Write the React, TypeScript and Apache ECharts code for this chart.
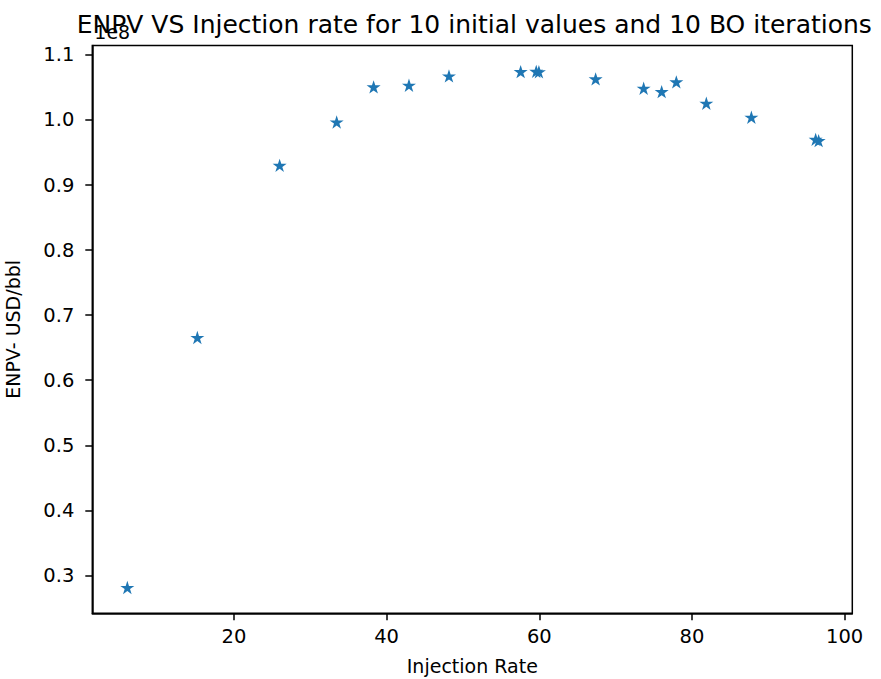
import React, { useEffect, useRef } from "react";
import * as echarts from "echarts";

// Injection rate (x) and ENPV in USD (y)
const injectionRate = [
  6.04, 15.21, 25.99, 33.46, 38.3, 42.93, 48.17, 57.56, 59.6, 59.95,
  67.38, 73.67, 76.03, 77.95, 81.88, 87.78, 96.2, 96.59,
];
const enpv = [
  28150000, 66570000, 93030000, 99690000, 105080000, 105340000, 106770000,
  107430000, 107480000, 107420000, 106310000, 104880000, 104350000,
  105850000, 102570000, 100420000, 97030000, 96820000,
];

const xTicks = [20, 40, 60, 80, 100];
const yTicks = [0.3e8, 0.4e8, 0.5e8, 0.6e8, 0.7e8, 0.8e8, 0.9e8, 1.0e8, 1.1e8];

const titleText = "ENPV VS Injection rate for 10 initial values and 10 BO iterations";
const xName = "Injection Rate";
const yName = "ENPV- USD/bbl";
const offsetText = "1e8";

const STAR =
  "path://M0,-1 L-0.2245,-0.309 L-0.9511,-0.309 L-0.3633,0.118 L-0.5878,0.809 L0,0.382 L0.5878,0.809 L0.3633,0.118 L0.9511,-0.309 L0.2245,-0.309 Z";

const FONT = "DejaVu Sans";

export default function App() {
  const ref = useRef<HTMLDivElement>(null);
  useEffect(() => {
    if (!ref.current) return;
    const chart = echarts.init(ref.current, undefined, { renderer: "svg" });
    const gridLeft = 92.3;
    const gridRight = 28.7;
    const gridTop = 45.5;
    const gridBottom = 65.7;
    const plotCenterX = gridLeft + (881 - gridLeft - gridRight) / 2;
    const axisLine = { show: true, onZero: false, lineStyle: { color: "#000", width: 1.5 } };
    chart.setOption({
      animation: false,
      backgroundColor: "#fff",
      grid: {
        left: gridLeft,
        right: gridRight,
        top: gridTop,
        bottom: gridBottom,
        containLabel: false,
        outerBoundsMode: "none",
        show: true,
        borderColor: "#000",
        borderWidth: 1.5,
        backgroundColor: "transparent",
      },
      graphic: [
        {
          type: "text",
          x: gridLeft + 2,
          y: 32,
          z: 1,
          style: {
            text: offsetText,
            fontFamily: FONT,
            fontSize: 19,
            fill: "#000",
            align: "left",
            verticalAlign: "middle",
          },
        },
        {
          type: "text",
          x: plotCenterX + 2,
          y: 24,
          z: 2,
          style: {
            text: titleText,
            fontFamily: FONT,
            fontSize: 25,
            fill: "#000",
            align: "center",
            verticalAlign: "middle",
          },
        },
      ],
      xAxis: {
        type: "value",
        min: 1.45,
        max: 101.0,
        name: xName,
        nameLocation: "middle",
        nameGap: 43,
        nameTextStyle: { fontFamily: FONT, fontSize: 19, color: "#000" },
        axisLine,
        splitLine: { show: false },
        axisTick: {
          show: true,
          inside: false,
          length: 7,
          customValues: xTicks,
          lineStyle: { color: "#000", width: 1.5 },
        },
        axisLabel: {
          customValues: xTicks,
          margin: 13,
          fontFamily: FONT,
          fontSize: 19.5,
          color: "#000",
          formatter: (v: number) => String(Math.round(v)),
        },
      },
      yAxis: {
        type: "value",
        min: 0.2418e8,
        max: 1.1145e8,
        name: yName,
        nameLocation: "middle",
        nameGap: 70,
        nameTextStyle: { fontFamily: FONT, fontSize: 19, color: "#000" },
        axisLine,
        splitLine: { show: false },
        axisTick: {
          show: true,
          inside: false,
          length: 7,
          customValues: yTicks,
          lineStyle: { color: "#000", width: 1.5 },
        },
        axisLabel: {
          customValues: yTicks,
          margin: 18,
          fontFamily: FONT,
          fontSize: 19.5,
          color: "#000",
          formatter: (v: number) => (v / 1e8).toFixed(1),
        },
      },
      series: [
        {
          type: "scatter",
          data: injectionRate.map((x, i) => [x, enpv[i]]),
          symbol: STAR,
          symbolKeepAspect: true,
          symbolSize: 14,
          itemStyle: { color: "#1f77b4", opacity: 1 },
          emphasis: { disabled: true },
        },
      ],
    });
    return () => chart.dispose();
  }, []);
  return (
    <div
      ref={ref}
      style={{ position: "fixed", left: 0, top: 0, width: 881, height: 679 }}
    />
  );
}
